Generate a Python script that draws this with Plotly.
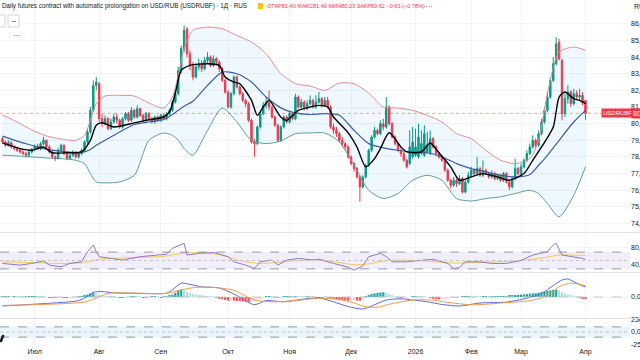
import plotly.graph_objects as go
from plotly.subplots import make_subplots

# ---------------- data ----------------
opens = [
    79.10, 78.90, 78.70, 78.85, 78.60, 78.50, 78.45, 78.30, 78.20, 78.10,
    78.30, 78.45, 78.65, 78.50, 78.80, 79.00, 78.60, 78.30, 78.00, 77.90,
    78.40, 78.70, 78.20, 77.90, 78.10, 78.30, 78.00, 78.20, 78.40, 78.90,
    79.50, 80.80, 82.30, 82.40, 80.30, 80.00, 80.30, 79.70, 80.10, 80.40,
    80.20, 79.80, 80.30, 80.60, 80.20, 80.80, 80.40, 80.90, 80.50, 80.20,
    80.60, 80.30, 80.10, 80.40, 80.20, 80.50, 80.30, 80.60, 80.80, 81.30,
    81.80, 83.20, 84.50, 85.70, 84.20, 83.50, 82.80, 83.40, 83.60, 83.30,
    83.80, 84.00, 83.50, 83.90, 83.70, 83.30, 82.60, 81.90, 81.00, 81.80,
    82.80, 82.20, 81.80, 81.40, 81.20, 80.20, 78.90, 78.80, 79.80, 80.60,
    81.10, 81.30, 81.00, 80.40, 79.90, 79.00, 79.80, 80.40, 80.10, 80.60,
    80.30, 81.60, 81.00, 81.30, 80.90, 81.20, 81.40, 81.00, 81.30, 81.50,
    81.10, 81.40, 81.00, 79.80, 79.60, 79.40, 79.00, 78.80, 78.60, 78.00,
    77.60, 77.30, 76.80, 76.20, 76.80, 77.50, 78.40, 79.20, 79.60, 79.40,
    80.00, 79.80, 81.00, 80.00, 79.20, 78.80, 78.40, 78.20, 77.80, 77.60,
    78.00, 78.10, 78.00, 78.20, 78.10, 78.30, 78.20, 79.10, 78.60, 78.20,
    78.00, 77.80, 77.20, 76.60, 76.30, 76.60, 76.40, 76.70, 75.90, 76.50,
    76.90, 77.20, 77.00, 77.30, 76.90, 77.20, 77.00, 76.80, 77.00, 76.70,
    76.90, 76.60, 77.00, 76.50, 76.20, 76.70, 77.30, 77.00, 77.40, 77.80,
    78.20, 78.60, 79.00, 78.70, 79.40, 80.10, 80.80, 81.60, 82.60, 83.60,
    84.90, 83.80, 80.60, 81.50, 81.90, 81.20, 81.80, 81.60, 81.70, 81.40,
]
highs = [
    79.20, 79.00, 79.00, 78.95, 78.70, 78.60, 78.50, 78.40, 78.30, 78.45,
    78.55, 78.75, 78.80, 78.90, 79.20, 79.05, 78.70, 78.40, 78.10, 78.55,
    78.80, 78.75, 78.30, 78.20, 78.40, 78.35, 78.30, 78.50, 79.00, 79.70,
    81.00, 82.60, 82.80, 82.50, 80.60, 80.50, 80.40, 80.30, 80.60, 80.60,
    80.30, 80.40, 80.70, 80.70, 81.00, 80.90, 81.10, 80.95, 80.60, 80.70,
    80.70, 80.40, 80.50, 80.50, 80.60, 80.60, 80.70, 80.90, 81.40, 82.00,
    83.40, 84.70, 85.90, 85.80, 84.40, 83.70, 83.60, 83.90, 83.80, 84.00,
    84.30, 84.10, 84.10, 84.00, 83.80, 83.40, 82.70, 82.00, 81.90, 82.90,
    82.90, 82.30, 81.90, 81.50, 81.30, 80.30, 79.10, 79.90, 80.70, 81.30,
    81.60, 82.00, 81.10, 80.50, 80.00, 79.90, 80.50, 80.50, 80.70, 80.70,
    81.80, 81.70, 81.50, 81.40, 81.40, 81.70, 81.50, 81.70, 81.90, 81.60,
    81.60, 81.60, 81.10, 80.00, 79.80, 79.50, 79.20, 78.90, 78.70, 78.10,
    77.70, 77.40, 76.90, 76.90, 77.60, 78.50, 79.30, 79.80, 79.70, 80.20,
    80.30, 81.60, 81.10, 80.10, 79.30, 78.90, 78.50, 78.30, 77.90, 79.60,
    79.80, 79.70, 80.00, 79.60, 79.90, 79.50, 79.60, 79.20, 78.70, 78.30,
    78.10, 77.90, 77.30, 76.70, 76.80, 76.70, 76.90, 76.80, 76.60, 77.10,
    77.40, 77.30, 78.00, 77.40, 77.80, 77.30, 77.10, 77.20, 77.10, 77.00,
    77.00, 77.10, 77.10, 76.60, 76.80, 77.90, 77.40, 77.60, 77.90, 78.40,
    78.80, 79.30, 79.10, 79.60, 80.30, 81.00, 81.90, 82.80, 84.00, 85.20,
    85.10, 83.90, 81.80, 82.30, 82.00, 82.10, 82.00, 82.10, 81.90, 81.40,
]
lows = [
    78.80, 78.60, 78.60, 78.50, 78.40, 78.30, 78.20, 78.10, 77.95, 78.00,
    78.20, 78.35, 78.40, 78.40, 78.70, 78.50, 78.20, 77.90, 77.75, 77.85,
    78.30, 78.10, 77.80, 77.85, 78.00, 77.90, 77.90, 78.10, 78.30, 78.80,
    79.40, 80.70, 82.00, 80.10, 79.80, 79.90, 79.60, 79.60, 80.00, 80.00,
    79.70, 79.70, 80.20, 80.10, 80.10, 80.30, 80.30, 80.40, 80.10, 80.10,
    80.20, 80.00, 80.00, 80.10, 80.10, 80.20, 80.20, 80.50, 80.70, 81.20,
    81.70, 83.00, 84.30, 84.00, 83.20, 82.60, 82.70, 83.20, 83.10, 83.20,
    83.60, 83.40, 83.40, 83.50, 83.10, 82.50, 81.80, 80.90, 80.90, 81.70,
    82.10, 81.70, 81.30, 81.00, 80.10, 78.80, 78.00, 78.70, 79.70, 80.50,
    80.90, 80.80, 80.30, 79.80, 78.90, 78.90, 79.70, 80.00, 80.00, 80.20,
    80.20, 80.90, 80.90, 80.80, 80.80, 81.10, 80.90, 80.90, 81.20, 81.00,
    81.00, 80.90, 79.70, 79.40, 79.20, 78.90, 78.60, 78.40, 77.90, 77.50,
    77.10, 76.70, 75.30, 76.10, 76.70, 77.40, 78.30, 79.10, 79.30, 79.30,
    79.60, 79.70, 79.90, 79.10, 78.70, 78.30, 78.00, 77.70, 77.30, 77.50,
    77.90, 78.00, 77.90, 78.10, 78.00, 78.20, 78.10, 78.50, 78.10, 77.90,
    77.70, 77.10, 76.50, 76.10, 76.20, 76.20, 76.30, 75.80, 75.80, 76.40,
    76.80, 76.90, 76.90, 76.80, 76.80, 76.90, 76.70, 76.70, 76.60, 76.60,
    76.50, 76.50, 76.40, 76.00, 76.10, 76.60, 76.90, 76.90, 77.30, 77.70,
    78.10, 78.50, 78.50, 78.60, 79.30, 80.00, 80.70, 81.50, 82.50, 83.50,
    83.80, 80.20, 80.40, 81.20, 81.00, 81.10, 81.40, 81.40, 81.10, 80.23,
]
closes = [
    78.90, 78.70, 78.85, 78.60, 78.50, 78.40, 78.30, 78.20, 78.10, 78.30,
    78.45, 78.65, 78.50, 78.80, 79.00, 78.60, 78.30, 78.00, 77.90, 78.40,
    78.70, 78.20, 77.90, 78.10, 78.30, 78.00, 78.20, 78.40, 78.90, 79.50,
    80.80, 82.30, 82.50, 80.30, 80.00, 80.30, 79.70, 80.10, 80.40, 80.20,
    79.80, 80.30, 80.60, 80.20, 80.80, 80.40, 80.90, 80.50, 80.20, 80.60,
    80.30, 80.10, 80.40, 80.20, 80.50, 80.30, 80.60, 80.80, 81.30, 81.80,
    83.20, 84.50, 85.60, 84.20, 83.50, 82.80, 83.40, 83.60, 83.30, 83.80,
    84.00, 83.50, 83.90, 83.70, 83.30, 82.60, 81.90, 81.00, 81.80, 82.80,
    82.20, 81.80, 81.40, 81.20, 80.20, 78.90, 78.80, 79.80, 80.60, 81.10,
    81.30, 81.00, 80.40, 79.90, 79.00, 79.80, 80.40, 80.10, 80.60, 80.30,
    81.60, 81.00, 81.30, 80.90, 81.20, 81.40, 81.00, 81.30, 81.50, 81.10,
    81.40, 81.00, 79.80, 79.60, 79.40, 79.00, 78.80, 78.60, 78.00, 77.60,
    77.30, 76.80, 76.20, 76.80, 77.50, 78.40, 79.20, 79.60, 79.40, 80.00,
    79.80, 81.00, 80.00, 79.20, 78.80, 78.40, 78.20, 77.80, 77.40, 78.60,
    78.90, 78.60, 79.20, 78.80, 79.40, 78.70, 79.10, 78.60, 78.20, 78.00,
    77.80, 77.20, 76.60, 76.30, 76.60, 76.40, 76.70, 75.90, 76.50, 76.90,
    77.20, 77.00, 77.30, 76.90, 77.20, 77.00, 76.80, 77.00, 76.70, 76.90,
    76.60, 77.00, 76.50, 76.20, 76.70, 77.30, 77.00, 77.40, 77.80, 78.20,
    78.60, 79.00, 78.70, 79.40, 80.10, 80.80, 81.60, 82.60, 83.60, 84.80,
    83.90, 80.60, 81.50, 81.90, 81.20, 81.80, 81.60, 81.70, 81.25, 80.62,
]

month_ticks = [11, 33, 54, 77, 98, 119, 141, 160, 177, 199]
month_labels = ["Июл", "Авг", "Сен", "Окт", "Ноя", "Дек", "2026", "Фев", "Мар", "Апр"]

bb_idx = [0, 5, 10, 15, 20, 25, 28, 30, 32, 35, 40, 45, 50, 55, 58, 60, 62, 65, 70, 75,
          80, 85, 90, 95, 100, 105, 110, 115, 120, 125, 130, 135, 140, 145, 150, 155,
          160, 165, 170, 175, 180, 183, 186, 190, 195, 199]
bb_upper = [80.52, 80.10, 79.62, 79.26, 79.08, 79.00, 79.30, 80.20, 81.20, 81.66,
            81.70, 81.66, 81.24, 80.94, 81.60, 82.90, 84.50, 85.60, 85.80, 85.70,
            85.30, 84.90, 84.20, 83.00, 82.40, 82.26, 82.00, 82.44, 82.40, 81.84,
            81.00, 80.94, 80.80, 80.50, 80.10, 79.40, 79.10, 78.40, 77.80, 77.60,
            77.90, 79.00, 81.80, 84.30, 84.60, 84.40]
bb_lower = [78.10, 78.06, 78.00, 77.94, 77.90, 77.80, 77.60, 77.00, 76.50, 76.44,
            76.50, 76.90, 79.00, 79.44, 79.30, 79.00, 78.50, 78.10, 79.60, 80.94,
            80.10, 79.00, 78.80, 78.96, 79.40, 79.44, 79.44, 78.90, 77.50, 76.00,
            75.50, 75.80, 76.60, 76.90, 76.60, 75.50, 75.35, 75.50, 75.60, 75.80,
            76.00, 75.80, 75.20, 74.40, 75.70, 77.40]
bb_basis = [79.25, 78.95, 78.70, 78.45, 78.35, 78.25, 78.30, 78.45, 78.70, 79.00,
            79.50, 79.95, 80.10, 80.25, 80.55, 80.80, 81.05, 81.35, 82.30, 83.10,
            83.00, 82.50, 81.60, 80.95, 80.65, 80.55, 80.60, 80.50, 79.60, 78.80,
            78.55, 78.40, 78.30, 78.25, 78.00, 77.60, 77.30, 77.10, 76.90, 76.80,
            76.95, 77.50, 78.10, 79.00, 80.10, 80.80]

fast_idx = [0, 6, 10, 14, 17, 22, 27, 30, 32, 34, 38, 45, 49, 55, 57, 59, 61, 64, 70, 74,
            76, 79, 81, 85, 87, 89, 91, 95, 97, 101, 105, 108, 111, 113, 118, 121, 124, 127, 129, 132,
            136, 138, 143, 146, 149, 153, 156, 160, 164, 169, 173, 178, 181, 184, 188, 190, 192, 195, 197, 199]
fast_ma = [78.84, 78.50, 78.40, 78.60, 78.25, 78.25, 78.30, 79.00, 79.90, 80.05,
           79.80, 80.05, 80.20, 80.40, 80.70, 81.84, 83.20, 83.50, 83.60, 83.50,
           82.80, 82.50, 82.40, 81.40, 80.50, 81.00, 81.40, 80.40, 80.20, 80.80,
           81.00, 81.10, 81.00, 80.40, 79.45, 78.60, 77.40, 77.90, 78.50, 79.45,
           78.60, 78.30, 78.30, 78.84, 78.25, 77.40, 76.60, 76.80, 77.00, 76.80,
           76.60, 77.00, 77.80, 78.60, 79.80, 81.60, 81.90, 81.50, 81.40, 81.20]

rsi_idx = [0, 6, 10, 14, 16, 20, 23, 27, 29, 31, 32, 33, 37, 41, 47, 51, 56, 58, 61, 62,
           63, 67, 72, 77, 79, 83, 86, 88, 92, 94, 97, 101, 106, 108, 113, 118, 120, 123, 125, 129,
           131, 133, 138, 143, 147, 152, 154, 156, 158, 163, 167, 172, 177, 181, 186, 188, 189, 191, 195, 198, 199]
rsi_val = [43, 39, 43, 49, 39, 35, 43, 47, 71, 87, 71, 59, 55, 51, 59, 61, 65, 79, 87, 91,
           63, 67, 69, 59, 47, 39, 31, 47, 51, 39, 51, 55, 51, 53, 43, 34, 27, 37, 59, 67,
           59, 47, 47, 50, 53, 43, 31, 33, 47, 47, 43, 43, 50, 63, 71, 87, 91, 63, 59, 55, 53]
rsi_ma_idx = [0, 10, 20, 28, 33, 45, 55, 60, 67, 74, 81, 88, 101, 108, 120, 125, 131, 142, 154, 165, 177, 186, 190, 199]
rsi_ma_val = [47, 45, 43, 45, 53, 57, 60, 66, 69, 64, 50, 43, 50, 52, 40, 42, 50, 50, 44, 46, 50, 58, 63, 62]

macd_idx = [0, 14, 26, 29, 31, 34, 38, 46, 56, 58, 61, 63, 68, 74, 79, 83, 86, 90, 96, 102,
            108, 113, 118, 123, 126, 131, 136, 140, 145, 150, 156, 163, 172, 179, 184, 188, 191, 193, 196, 199]
macd_val = [-0.75, -0.55, -0.30, 0.05, 0.40, 0.45, 0.35, 0.30, 0.32, 0.60,
            1.15, 1.10, 0.85, 0.75, 0.25, -0.30, -0.65, -0.30, -0.40, -0.20,
            -0.08, -0.40, -0.80, -1.00, -0.75, -0.25, -0.15, -0.25, -0.40, -0.62,
            -0.75, -0.50, -0.42, -0.10, 0.30, 0.95, 1.42, 1.50, 1.15, 0.83]
signal_idx = [0, 14, 28, 32, 36, 46, 56, 61, 66, 72, 79, 86, 92, 100, 108, 115, 120, 124, 128, 133,
              140, 146, 152, 160, 172, 180, 186, 190, 194, 199]
signal_val = [-0.70, -0.62, -0.42, -0.10, 0.30, 0.32, 0.30, 0.60, 0.80, 0.80,
              0.55, -0.25, -0.40, -0.30, -0.10, -0.20, -0.50, -0.82, -0.85, -0.55,
              -0.25, -0.25, -0.45, -0.65, -0.47, -0.30, 0.10, 0.85, 1.15, 0.95]
macd_hist = [
    0.02, 0.03, 0.04, 0.03, 0.05, 0.04, 0.03, 0.02, 0.03, 0.04,
    0.05, 0.06, 0.05, 0.04, 0.03, 0.00, -0.02, -0.03, -0.04, -0.03,
    -0.02, -0.03, -0.04, -0.03, -0.02, -0.01, 0.01, 0.03,
    0.10, 0.20, 0.30, 0.35, 0.30, 0.20,
    0.12, 0.08, 0.05, 0.03, 0.02, 0.00, -0.02, -0.03, -0.02, 0.00, 0.02, 0.03,
    0.02, 0.01, -0.01, -0.02, -0.01, 0.01, 0.02, 0.01, -0.01, 0.01, 0.03,
    0.10, 0.20, 0.35, 0.50, 0.60, 0.55, 0.45,
    0.35, 0.28, 0.22, 0.17, 0.12, 0.08, 0.05, 0.03, 0.01,
    -0.05, -0.10, -0.18, -0.25, -0.30, -0.28, -0.30, -0.33, -0.35, -0.38, -0.40, -0.45, -0.40, -0.30, -0.20, -0.10,
    -0.04, 0.02, 0.05, 0.03, -0.02, -0.05, -0.03, 0.02, 0.04, 0.05, 0.03, 0.06, 0.05, 0.04, 0.02, 0.03,
    0.02, 0.01, -0.01, -0.02, -0.03, -0.02,
    -0.05, -0.12, -0.18, -0.22, -0.25, -0.27, -0.28, -0.30, -0.30, -0.28, -0.30, -0.32, -0.20,
    0.05, 0.15, 0.25, 0.30, 0.35, 0.38, 0.40, 0.35, 0.25, 0.15, 0.05,
    -0.05, -0.08, -0.06, -0.04, 0.00, 0.03, 0.05, 0.04, 0.03, 0.02, 0.00,
    -0.05, -0.12, -0.18, -0.20, -0.18, -0.15, -0.10, -0.08, -0.05, -0.03, 0.00,
    0.02, 0.05, 0.06, 0.05, 0.04, 0.03, 0.02, 0.02, 0.03, 0.02, 0.02, 0.03, 0.04, 0.05,
    0.06, 0.08, 0.10, 0.12, 0.15, 0.18, 0.20, 0.22, 0.25, 0.28, 0.30, 0.32, 0.35,
    0.40, 0.45, 0.50, 0.55, 0.60, 0.62, 0.55,
    0.40, 0.30, 0.22, 0.15, 0.08, 0.02,
    -0.08, -0.12, -0.18,
]

price_ticks = [74, 75, 76, 77, 78, 79, 80, 81, 82, 83, 84, 85, 86]
rsi_ticks = [40, 80]
rsi_levels = [30, 50, 70]
macd_ticks = [0]
cci_ticks = [-250, 0, 250]
cci_levels = [-100, 100]

# ---------------- styling ----------------
GREEN = "#089981"
RED = "#F23645"
TXT = "#131722"
GRID = "#F0F3FA"
FONT = "Liberation Sans, Arial, sans-serif"
PLOT_W, PLOT_H = 630.0, 345.0


def px_x(px):
    return px / PLOT_W


def px_y(py):
    return 1 - py / PLOT_H


bar_index = list(range(len(closes)))

fig = make_subplots(rows=4, cols=1, shared_xaxes=True, vertical_spacing=0.0)

spl = dict(shape="spline", smoothing=0.7)
fig.add_trace(go.Scatter(x=bb_idx, y=bb_upper, mode="lines",
                         line=dict(color="#E98A92", width=1, **spl), hoverinfo="skip"), row=1, col=1)
fig.add_trace(go.Scatter(x=bb_idx, y=bb_lower, mode="lines",
                         line=dict(color="#5E9E98", width=1, **spl), fill="tonexty",
                         fillcolor="rgba(33,150,243,0.07)", hoverinfo="skip"), row=1, col=1)
fig.add_trace(go.Candlestick(x=bar_index, open=opens, high=highs, low=lows, close=closes,
                             increasing=dict(line=dict(color=GREEN, width=1), fillcolor=GREEN),
                             decreasing=dict(line=dict(color=RED, width=1), fillcolor=RED),
                             whiskerwidth=0), row=1, col=1)
fig.add_trace(go.Scatter(x=bb_idx, y=bb_basis, mode="lines",
                         line=dict(color="#3C5DA6", width=1.2, **spl), hoverinfo="skip"), row=1, col=1)
fig.add_trace(go.Scatter(x=fast_idx, y=fast_ma, mode="lines",
                         line=dict(color="#000000", width=1.4, **spl), hoverinfo="skip"), row=1, col=1)

# RSI
fig.add_trace(go.Scatter(x=rsi_ma_idx, y=rsi_ma_val, mode="lines",
                         line=dict(color="#F5C85A", width=1, **spl)), row=2, col=1)
fig.add_trace(go.Scatter(x=rsi_idx, y=rsi_val, mode="lines",
                         line=dict(color="#8E78C4", width=1)), row=2, col=1)

# MACD
hist_colors = []
for k, h in enumerate(macd_hist):
    prev = macd_hist[k - 1] if k > 0 else 0
    if h >= 0:
        hist_colors.append("#26A69A" if h >= prev else "#B2DFDB")
    else:
        hist_colors.append("#FF5252" if h < prev else "#FFCDD2")
fig.add_trace(go.Bar(x=bar_index, y=macd_hist, marker=dict(color=hist_colors, line=dict(width=0)),
                     width=0.75), row=3, col=1)
fig.add_trace(go.Scatter(x=macd_idx, y=macd_val, mode="lines",
                         line=dict(color="#5B6BD8", width=1, **spl)), row=3, col=1)
fig.add_trace(go.Scatter(x=signal_idx, y=signal_val, mode="lines",
                         line=dict(color="#F39A4A", width=1, **spl)), row=3, col=1)

fig.update_layout(
    width=640, height=360,
    margin=dict(l=0, r=10, t=0, b=15, autoexpand=False),
    paper_bgcolor="white", plot_bgcolor="white",
    showlegend=False,
    font=dict(family=FONT, size=7, color=TXT),
    xaxis_rangeslider_visible=False,
)

xr = [-0.85, 214.2]
for r in range(1, 5):
    fig.update_xaxes(range=xr, tickvals=month_ticks, ticktext=month_labels,
                     showgrid=True, gridcolor=GRID, gridwidth=1, zeroline=False,
                     showline=False, ticks="", showticklabels=(r == 4), automargin=False,
                     tickfont=dict(size=7, color=TXT, family=FONT), row=r, col=1)
fig.update_xaxes(ticklabelstandoff=1, row=4, col=1)

common_y = dict(side="right", zeroline=False, showline=False, ticks="", automargin=False,
                tickfont=dict(size=7, color=TXT, family=FONT), showgrid=True, gridcolor=GRID)
fig.update_layout(
    yaxis=dict(domain=[px_y(232), 1], range=[73.49, 87.43], tickvals=price_ticks,
               ticktext=[f"{v},00" for v in price_ticks], **common_y),
    yaxis2=dict(domain=[px_y(272), px_y(233)], range=[22.6, 115.5], tickvals=rsi_ticks,
                ticktext=[f"{v},00" for v in rsi_ticks], **common_y),
    yaxis3=dict(domain=[px_y(318), px_y(273)], range=[-1.75, 2.0], tickvals=macd_ticks,
                ticktext=["0,00"], **common_y),
    yaxis4=dict(domain=[0, px_y(319)], range=[-253, 253], tickvals=cci_ticks,
                ticktext=["-250,00", "0,00", "250,00"], **common_y),
)

shapes = []
# pane separators
for py in [232.5, 272.5, 318.5]:
    shapes.append(dict(type="line", xref="paper", yref="paper", x0=0, x1=1.02,
                       y0=px_y(py), y1=px_y(py), line=dict(color="#E0E3EB", width=1)))
# RSI band
shapes.append(dict(type="rect", xref="paper", yref="y2", x0=0, x1=1, y0=rsi_levels[0], y1=rsi_levels[2],
                   fillcolor="rgba(126,87,194,0.10)", line=dict(width=0), layer="below"))
for lv in rsi_levels:
    shapes.append(dict(type="line", xref="paper", yref="y2", x0=0, x1=1, y0=lv, y1=lv,
                       line=dict(color="#9598A1" if lv != 50 else "#C3C5CC", width=1,
                                 dash="dash" if lv != 50 else "dot")))
# MACD zero
shapes.append(dict(type="line", xref="paper", yref="y3", x0=0, x1=1, y0=0, y1=0,
                   line=dict(color="#C3C5CC", width=1, dash="dash")))
# CCI band
shapes.append(dict(type="rect", xref="paper", yref="y4", x0=0, x1=1, y0=cci_levels[0], y1=cci_levels[1],
                   fillcolor="rgba(33,150,243,0.10)", line=dict(width=0), layer="below"))
for lv in cci_levels:
    shapes.append(dict(type="line", xref="paper", yref="y4", x0=0, x1=1, y0=lv, y1=lv,
                       line=dict(color="#9598A1", width=1, dash="dash")))
shapes.append(dict(type="line", xref="paper", yref="y4", x0=0, x1=1, y0=0, y1=0,
                   line=dict(color="#C3C5CC", width=1, dash="dot")))
# last price line
shapes.append(dict(type="line", xref="paper", yref="y", x0=0, x1=1, y0=closes[-1], y1=closes[-1],
                   line=dict(color="rgba(242,54,69,0.45)", width=1, dash="dot")))
# header: yellow flag square and legend buttons
shapes.append(dict(type="rect", xref="paper", yref="paper", x0=px_x(258), x1=px_x(263),
                   y0=px_y(9), y1=px_y(3), fillcolor="#F7C600", line=dict(width=0)))
shapes.append(dict(type="rect", xref="paper", yref="paper", x0=px_x(-3), x1=px_x(5),
                   y0=px_y(27), y1=px_y(15), fillcolor="white", line=dict(color="#D1D4DC", width=1)))
shapes.append(dict(type="rect", xref="paper", yref="paper", x0=px_x(8), x1=px_x(19),
                   y0=px_y(27), y1=px_y(15), fillcolor="white", line=dict(color="#D1D4DC", width=1)))
# small dark logo fragment at bottom-left corner
shapes.append(dict(type="line", xref="paper", yref="paper", x0=px_x(0.5), x1=px_x(3.5),
                   y0=px_y(342), y1=px_y(335), line=dict(color="#131722", width=2.5)))

annotations = [
    dict(xref="paper", yref="paper", x=px_x(0), y=px_y(6), xanchor="left", yanchor="middle",
         text="Daily futures contract with automatic prolongation on USD/RUB (USDRUBF) · 1Д · RUS",
         showarrow=False, font=dict(size=6.3, color=TXT, family=FONT)),
    dict(xref="paper", yref="paper", x=px_x(265), y=px_y(6), xanchor="left", yanchor="middle",
         text="ОТКР81,40 МАКС81,40 МИН80,23 ЗАКР80,62 −0,63 (−0,78%)",
         showarrow=False, font=dict(size=5.6, color=RED, family=FONT)),
    dict(xref="paper", yref="paper", x=px_x(423), y=px_y(6), xanchor="left", yanchor="middle",
         text="···", showarrow=False, font=dict(size=8, color=TXT, family=FONT)),
    dict(xref="paper", yref="paper", x=px_x(13.5), y=px_y(21), xanchor="center", yanchor="middle",
         text="–", showarrow=False, font=dict(size=7, color=TXT, family=FONT)),
    dict(xref="paper", yref="paper", x=px_x(11), y=px_y(35), xanchor="left", yanchor="middle",
         text="···", showarrow=False, font=dict(size=8, color=TXT, family=FONT)),
    dict(xref="paper", yref="paper", x=px_x(632), y=px_y(6), xanchor="left", yanchor="middle",
         text="RUB", showarrow=False, font=dict(size=7, color=TXT, family=FONT)),
    dict(xref="paper", yref="y", x=px_x(617), y=closes[-1], xanchor="center", yanchor="middle",
         text="USDRUBF", showarrow=False, bgcolor=RED, borderpad=1,
         font=dict(size=6, color="white", family=FONT)),
    dict(xref="paper", yref="y", x=px_x(631), y=closes[-1], xanchor="left", yanchor="middle",
         text="80,62", showarrow=False, bgcolor=RED, borderpad=1,
         font=dict(size=7, color="white", family=FONT)),
]
fig.update_layout(shapes=shapes, annotations=annotations)

# remove the browser's default page margin so the figure sits at the window origin
fig.write_html("out.html", config={"displayModeBar": False},
               post_script="document.body.style.margin='0';")
